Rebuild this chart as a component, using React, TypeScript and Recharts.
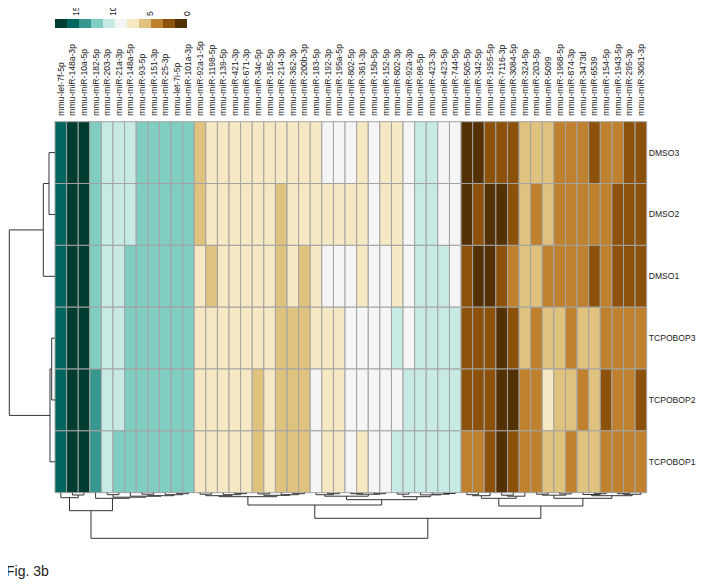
import React from 'react'
import { ComposedChart, XAxis, YAxis, ReferenceArea, ReferenceLine, Scatter } from 'recharts'

// heatmap labels
const colNames = [
  'mmu-let-7f-5p', 'mmu-miR-148a-3p', 'mmu-miR-10a-5p', 'mmu-miR-182-5p', 'mmu-miR-203-3p',
  'mmu-miR-21a-3p', 'mmu-miR-148a-5p', 'mmu-miR-93-5p', 'mmu-miR-151-3p', 'mmu-miR-25-3p',
  'mmu-let-7i-5p', 'mmu-miR-101a-3p', 'mmu-miR-92a-1-5p', 'mmu-miR-1198-5p', 'mmu-miR-139-5p',
  'mmu-miR-421-3p', 'mmu-miR-671-3p', 'mmu-miR-34c-5p', 'mmu-miR-185-5p', 'mmu-miR-214-3p',
  'mmu-miR-362-3p', 'mmu-miR-200b-3p', 'mmu-miR-183-5p', 'mmu-miR-192-3p', 'mmu-miR-195a-5p',
  'mmu-miR-802-5p', 'mmu-miR-361-3p', 'mmu-miR-15b-5p', 'mmu-miR-152-5p', 'mmu-miR-802-3p',
  'mmu-miR-92a-3p', 'mmu-miR-98-5p', 'mmu-miR-423-3p', 'mmu-miR-423-5p', 'mmu-miR-744-5p',
  'mmu-miR-505-5p', 'mmu-miR-342-5p', 'mmu-miR-1955-5p', 'mmu-miR-7116-3p', 'mmu-miR-3084-5p',
  'mmu-miR-324-5p', 'mmu-miR-203-5p', 'mmu-miR-5099', 'mmu-miR-1968-5p', 'mmu-miR-874-3p',
  'mmu-miR-3473d', 'mmu-miR-6539', 'mmu-miR-154-5p', 'mmu-miR-1943-5p', 'mmu-miR-295-3p',
  'mmu-miR-3061-3p',
]
const rowNames = ['DMSO3', 'DMSO2', 'DMSO1', 'TCPOBOP3', 'TCPOBOP2', 'TCPOBOP1']

// expression values per sample (one per column above)
const dmso3 = [15.5, 17.1, 16.9, 12.3, 10.6, 10.4, 10.2, 12.0, 12.1, 12.4, 12.2, 11.9, 5.9, 7.2, 7.4, 7.1, 7.3, 7.0, 7.5, 7.2, 7.1, 6.9, 7.3, 8.8, 9.0, 8.9, 7.0, 9.1, 7.2, 7.4, 8.9, 10.3, 10.5, 9.2, 8.9, 1.0, 0.9, 2.4, 2.6, 2.3, 5.6, 5.8, 5.5, 4.0, 4.2, 4.3, 2.5, 4.1, 3.9, 2.6, 2.4]
const dmso2 = [15.3, 17.0, 17.2, 12.1, 10.5, 10.7, 10.3, 12.2, 12.0, 12.3, 12.1, 12.2, 5.8, 7.3, 7.1, 7.4, 7.2, 7.0, 7.3, 5.6, 7.2, 7.4, 7.1, 7.0, 7.2, 7.3, 7.1, 9.0, 7.4, 7.2, 8.8, 10.4, 10.6, 9.1, 9.0, 0.8, 2.5, 1.0, 0.7, 2.3, 5.7, 4.1, 5.5, 4.2, 4.0, 4.3, 4.1, 3.9, 2.4, 2.6, 2.5]
const dmso1 = [15.4, 16.9, 17.1, 12.0, 10.6, 10.3, 12.1, 12.2, 12.3, 12.0, 12.2, 12.1, 7.2, 5.7, 7.3, 7.1, 7.4, 7.2, 7.0, 5.8, 7.3, 5.6, 7.1, 8.9, 9.1, 8.8, 7.2, 9.0, 8.9, 7.1, 9.0, 10.4, 10.6, 10.2, 8.9, 2.5, 0.9, 0.8, 2.3, 4.0, 5.6, 5.7, 4.2, 4.1, 3.9, 4.3, 2.4, 4.0, 2.6, 2.3, 2.5]
const tcpobop3 = [15.5, 17.0, 16.8, 12.2, 10.5, 10.4, 12.1, 12.3, 12.0, 12.2, 12.1, 12.3, 7.3, 7.1, 7.2, 7.4, 7.0, 7.3, 7.2, 5.7, 5.5, 5.8, 7.1, 7.3, 7.2, 9.0, 8.9, 9.1, 8.8, 10.4, 9.0, 10.5, 10.6, 10.3, 10.4, 2.4, 2.6, 2.3, 0.9, 2.5, 5.6, 4.1, 5.8, 5.5, 4.0, 5.7, 5.6, 4.2, 4.1, 3.9, 4.0]
const tcpobop2 = [15.3, 17.1, 16.9, 13.8, 10.6, 10.3, 12.2, 12.0, 12.1, 12.3, 12.2, 12.0, 7.2, 7.4, 7.1, 7.3, 7.2, 5.7, 7.0, 5.6, 5.8, 5.5, 9.0, 7.2, 7.1, 8.9, 9.1, 8.8, 9.0, 8.9, 10.5, 10.4, 10.6, 10.3, 10.5, 2.5, 2.3, 2.6, 0.8, 0.9, 4.1, 4.0, 7.3, 5.6, 5.7, 4.2, 5.5, 2.4, 4.0, 4.1, 2.5]
const tcpobop1 = [15.4, 16.9, 17.0, 13.7, 10.5, 12.2, 12.1, 12.0, 12.3, 12.2, 12.1, 12.0, 7.3, 7.1, 7.2, 7.4, 7.0, 5.6, 7.3, 5.7, 5.5, 5.8, 8.9, 7.2, 7.1, 9.0, 7.3, 8.8, 9.1, 10.4, 10.6, 10.5, 10.3, 10.4, 10.6, 4.1, 4.0, 2.5, 0.9, 2.4, 4.2, 3.9, 5.7, 5.6, 4.1, 5.5, 5.8, 4.0, 4.2, 3.9, 4.1]
const rowValues = [dmso3, dmso2, dmso1, tcpobop3, tcpobop2, tcpobop1]

// colour key
const legendTicks = [0, 5, 10, 15]
const scaleMax = 17.84
const palette = ['#003c30', '#01665e', '#35978f', '#80cdc1', '#c7eae5', '#f5f5f5', '#f6e8c3', '#dfc27d', '#bf812d', '#8c510a', '#543005']

// dendrograms: leaf index or [left, right, merge height]
type Tree = number | [Tree, Tree, number]
const rowTree: Tree = [[[0, 1, 6], 2, 11.7], [[3, 4, 3.3], 5, 5], 45.7]
const colTree: Tree = [
  [
    [0, [1, 2, 2.3], 5],
    [3, [[4, 5, 2], [6, [[7, 8, 1.5], [9, [10, 11, 1], 2], 3], 3.5], 4.5], 5.6],
    18,
  ],
  [
    [
      [[[12, 13, 1.5], [14, [15, 16, 1], 2], 3], [[17, 18, 1.2], [19, [20, 21, 1], 2], 2.6], 4],
      [
        [[22, [23, 24, 1], 2], [[25, 26, 1], [27, 28, 1], 1.5], 3.5],
        [[29, 30, 1.5], [31, [32, [33, 34, 0.8], 1.5], 2.2], 4],
        7,
      ],
      12.3,
    ],
    [
      [[[35, 36, 2], 37, 3], [[38, 39, 2.5], 40, 3.5], 5.6],
      [[[41, 42, 1.5], [43, 44, 1.2], 2.5], [[45, [46, 47, 1], 1.8], [[48, 49, 1], 50, 1.6], 3], 5.6],
      13.3,
    ],
    25.6,
  ],
  45.6,
]

const W = 696
const H = 577
const margin = { top: 0, right: 0, left: 47, bottom: 92.3 }
const topAxisH = 113.7
const rightAxisW = 57.3
const plotW = W - margin.left - margin.right - rightAxisW
const plotH = H - margin.top - margin.bottom - topAxisH
const colPx = plotW / colNames.length
const rowPx = plotH / rowNames.length

const font = "'Liberation Sans', Arial, Helvetica, sans-serif"
const labelSize = 8.6

function colorOf(v: number) {
  const step = scaleMax / palette.length
  const i = Math.floor((scaleMax - v) / step)
  return palette[Math.max(0, Math.min(palette.length - 1, i))]
}

// one point per cell, used as the chart's data
const cells = rowValues.flatMap((vals, r) =>
  vals.map((v, c) => ({ x: c + 0.5, y: r + 0.5, v, r, c }))
)

type Seg = { p1: number; h1: number; p2: number; h2: number }
function walk(node: Tree, segs: Seg[]): { pos: number; h: number } {
  if (typeof node === 'number') return { pos: node + 0.5, h: 0 }
  const [l, r, h] = node
  const a = walk(l, segs)
  const b = walk(r, segs)
  segs.push({ p1: a.pos, h1: a.h, p2: a.pos, h2: h })
  segs.push({ p1: b.pos, h1: b.h, p2: b.pos, h2: h })
  segs.push({ p1: a.pos, h1: h, p2: b.pos, h2: h })
  return { pos: (a.pos + b.pos) / 2, h }
}

const colSegs: Seg[] = []
walk(colTree, colSegs)
const rowSegs: Seg[] = []
walk(rowTree, rowSegs)

const ColTick = (props: any) => {
  const { x, y, payload } = props
  return (
    <text
      x={x}
      y={y}
      transform={`rotate(-90 ${x} ${y})`}
      textAnchor="start"
      dy="0.35em"
      fontSize={labelSize}
      fill="#222"
      fontFamily={font}
    >
      {colNames[Math.floor(payload.value)]}
    </text>
  )
}

const RowTick = (props: any) => {
  const { x, y, payload } = props
  return (
    <text x={x} y={y} textAnchor="start" dy="0.35em" fontSize={labelSize} fill="#222" fontFamily={font}>
      {rowNames[Math.floor(payload.value)]}
    </text>
  )
}

const KeyTick = (props: any) => {
  const { x, y, payload } = props
  return (
    <text
      x={x}
      y={y}
      transform={`rotate(-90 ${x} ${y})`}
      textAnchor="start"
      dy="0.35em"
      fontSize={labelSize}
      fill="#222"
      fontFamily={font}
    >
      {payload.value}
    </text>
  )
}

const keyData = palette.map((c, i) => ({ x: scaleMax - (scaleMax / palette.length) * (i + 0.5), y: 0.5 }))

function ColorKey() {
  const step = scaleMax / palette.length
  return (
    <div style={{ position: 'absolute', left: 47, top: -8 }}>
      <ComposedChart width={142} height={29} data={keyData} margin={{ top: 0, right: 10, left: 0, bottom: 1 }}>
        <XAxis
          type="number"
          dataKey="x"
          orientation="top"
          domain={[0, scaleMax]}
          reversed
          ticks={legendTicks}
          height={19}
          axisLine={false}
          tickLine={false}
          tickSize={0}
          tickMargin={3}
          tick={<KeyTick />}
          interval={0}
        />
        <YAxis type="number" dataKey="y" domain={[0, 1]} hide />
        {palette.map((c, i) => (
          <ReferenceArea
            key={i}
            x1={scaleMax - step * (i + 1)}
            x2={scaleMax - step * i}
            y1={0}
            y2={1}
            fill={c}
            fillOpacity={1}
            stroke="none"
          />
        ))}
        <Scatter dataKey="y" shape={() => null} isAnimationActive={false} />
      </ComposedChart>
    </div>
  )
}

export default function App() {
  const nCol = colNames.length
  const nRow = rowNames.length
  return (
    <div style={{ position: 'relative', width: W, height: H, fontFamily: font }}>
      <ComposedChart width={W} height={H} margin={margin} data={cells}>
        <XAxis
          type="number"
          dataKey="x"
          orientation="top"
          domain={[0, nCol]}
          ticks={colNames.map((_, i) => i + 0.5)}
          interval={0}
          height={topAxisH}
          axisLine={false}
          tickLine={false}
          tickSize={0}
          tickMargin={6}
          tick={<ColTick />}
        />
        <YAxis
          type="number"
          dataKey="y"
          orientation="right"
          domain={[0, nRow]}
          reversed
          ticks={rowNames.map((_, i) => i + 0.5)}
          interval={0}
          width={rightAxisW}
          axisLine={false}
          tickLine={false}
          tickSize={0}
          tickMargin={2}
          tick={<RowTick />}
        />
        {cells.map((d) => (
          <ReferenceArea
            key={`${d.r}-${d.c}`}
            x1={d.c}
            x2={d.c + 1}
            y1={d.r}
            y2={d.r + 1}
            fill={colorOf(d.v)}
            fillOpacity={1}
            stroke="#a3a3a3"
            strokeWidth={1}
          />
        ))}
        {colSegs.map((s, i) => (
          <ReferenceLine
            key={`c${i}`}
            segment={[
              { x: s.p1, y: nRow + s.h1 / rowPx },
              { x: s.p2, y: nRow + s.h2 / rowPx },
            ]}
            stroke="#333"
            strokeWidth={1}
            ifOverflow="visible"
          />
        ))}
        {rowSegs.map((s, i) => (
          <ReferenceLine
            key={`r${i}`}
            segment={[
              { x: -s.h1 / colPx, y: s.p1 },
              { x: -s.h2 / colPx, y: s.p2 },
            ]}
            stroke="#333"
            strokeWidth={1}
            ifOverflow="visible"
          />
        ))}
        <Scatter dataKey="y" shape={() => null} isAnimationActive={false} />
      </ComposedChart>
      <ColorKey />
      <div
        style={{
          position: 'absolute',
          left: -3,
          top: 555,
          zIndex: 2,
          fontSize: 14,
          lineHeight: '16px',
          color: '#222',
          whiteSpace: 'nowrap',
          paddingLeft: 1,
        }}
      >
        Fig. 3b
      </div>
    </div>
  )
}
